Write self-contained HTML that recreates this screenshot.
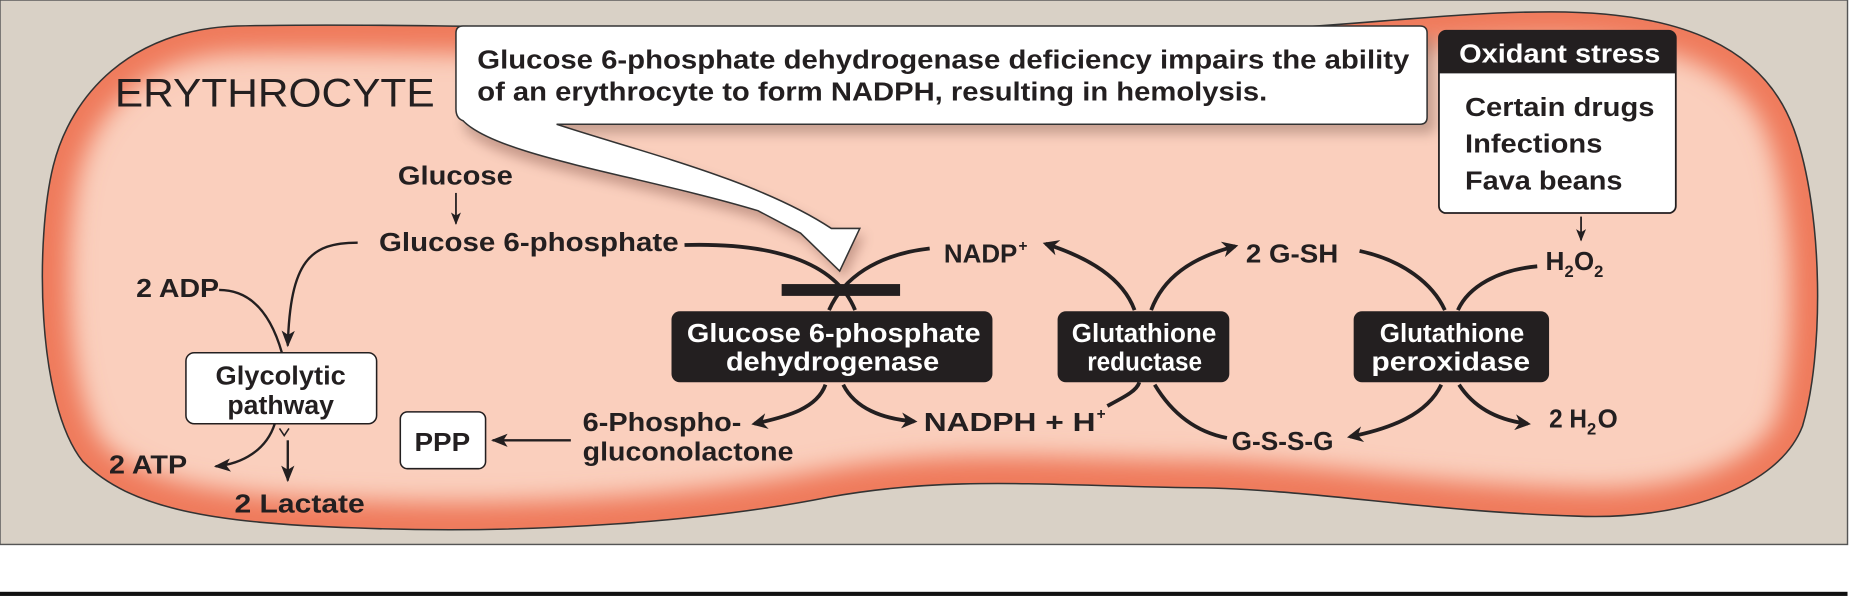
<!DOCTYPE html>
<html><head><meta charset="utf-8"><style>
html,body{margin:0;padding:0;background:#fff;}
svg{display:block;}
text{font-family:"Liberation Sans",Arial,sans-serif;font-weight:bold;fill:#231f20;}
</style></head><body>
<svg width="1857" height="606" viewBox="0 0 1568 512" preserveAspectRatio="none" xmlns="http://www.w3.org/2000/svg">
<defs>
<marker id="ah" viewBox="0 0 10 10" refX="8" refY="5" markerWidth="4.2" markerHeight="4.2" orient="auto" markerUnits="strokeWidth">
<path d="M0,0 L10,5 L0,10 L3,5 Z" fill="#231f20"/></marker>
<marker id="as" viewBox="0 0 10 10" refX="9" refY="5" markerWidth="7" markerHeight="7" orient="auto" markerUnits="strokeWidth">
<path d="M0,1 L10,5 L0,9 L2.5,5 Z" fill="#231f20"/></marker>
<clipPath id="cp"><path d="M200,22 C350,18 700,30 900,30 C1100,30 1200,10 1310,10 C1420,10 1490,40 1515,110 C1540,180 1540,300 1522,360 C1502,412 1420,440 1330,436 C1200,432 1100,412 1000,412 C880,410 800,402 700,420 C600,440 450,452 300,446 C180,442 110,430 70,390 C30,340 30,200 45,140 C60,80 110,25 200,22 Z"/></clipPath>
<filter id="bl" x="-10%" y="-10%" width="120%" height="120%"><feGaussianBlur stdDeviation="10"/></filter>
<filter id="sh" x="-10%" y="-10%" width="130%" height="140%"><feGaussianBlur stdDeviation="5"/></filter>
</defs>
<rect x="0" y="0" width="1560" height="460" fill="#d9d1c6" stroke="#555" stroke-width="1.2"/>
<rect x="0" y="500" width="1560" height="3.5" fill="#111"/>
<g clip-path="url(#cp)">
<rect x="0" y="0" width="1568" height="512" fill="#facfbd"/>
<path d="M200,22 C350,18 700,30 900,30 C1100,30 1200,10 1310,10 C1420,10 1490,40 1515,110 C1540,180 1540,300 1522,360 C1502,412 1420,440 1330,436 C1200,432 1100,412 1000,412 C880,410 800,402 700,420 C600,440 450,452 300,446 C180,442 110,430 70,390 C30,340 30,200 45,140 C60,80 110,25 200,22 Z" fill="none" stroke="#ef7a5b" stroke-width="46" filter="url(#bl)"/>
</g>
<path d="M200,22 C350,18 700,30 900,30 C1100,30 1200,10 1310,10 C1420,10 1490,40 1515,110 C1540,180 1540,300 1522,360 C1502,412 1420,440 1330,436 C1200,432 1100,412 1000,412 C880,410 800,402 700,420 C600,440 450,452 300,446 C180,442 110,430 70,390 C30,340 30,200 45,140 C60,80 110,25 200,22 Z" fill="none" stroke="#333" stroke-width="1.3"/>

<text x="97" y="90" style="font-weight:normal" font-size="34" textLength="270" lengthAdjust="spacingAndGlyphs">ERYTHROCYTE</text>

<!-- callout -->
<path d="M392,106 C420,135 540,150 640,180 L676,197 L709,229 L726,193 L702,193 C640,152 540,130 470,108 Z" fill="#8a5a50" opacity="0.45" filter="url(#sh)" transform="translate(4,6)"/>
<rect x="389" y="26" width="820" height="82" rx="6" fill="#7a5a50" opacity="0.4" filter="url(#sh)" transform="translate(3,5)"/>
<path d="M391,22 L1199,22 Q1205,22 1205,28 L1205,99 Q1205,105 1199,105 L470,105 C540,128 640,152 702,193 L726,193 L709,229 L676,197 L640,178 C540,148 420,132 391,102 Q385,100 385,92 L385,28 Q385,22 391,22 Z" fill="#fff" stroke="#333" stroke-width="1.3"/>
<text x="403" y="58" font-size="22" textLength="787" lengthAdjust="spacingAndGlyphs">Glucose 6-phosphate dehydrogenase deficiency impairs the ability</text>
<text x="403" y="85" font-size="22" textLength="667" lengthAdjust="spacingAndGlyphs">of an erythrocyte to form NADPH, resulting in hemolysis.</text>

<!-- oxidant stress -->
<rect x="1215" y="26" width="200" height="154" rx="6" fill="#fff" stroke="#231f20" stroke-width="1.5"/>
<path d="M1221,26 L1409,26 Q1415,26 1415,32 L1415,62 L1215,62 L1215,32 Q1215,26 1221,26 Z" fill="#231f20"/>
<text x="1232" y="53" font-size="22" style="fill:#fff" textLength="170" lengthAdjust="spacingAndGlyphs">Oxidant stress</text>
<text x="1237" y="98" font-size="22" textLength="160" lengthAdjust="spacingAndGlyphs">Certain drugs</text>
<text x="1237" y="129" font-size="22" textLength="116" lengthAdjust="spacingAndGlyphs">Infections</text>
<text x="1237" y="160" font-size="22" textLength="133" lengthAdjust="spacingAndGlyphs">Fava beans</text>
<line x1="1335" y1="183" x2="1335" y2="203" stroke="#231f20" stroke-width="1.5" marker-end="url(#as)"/>

<!-- labels -->
<text x="336" y="156" font-size="22" textLength="97" lengthAdjust="spacingAndGlyphs">Glucose</text>
<line x1="385" y1="163" x2="385" y2="189" stroke="#231f20" stroke-width="1.5" marker-end="url(#as)"/>
<text x="320" y="212" font-size="22" textLength="253" lengthAdjust="spacingAndGlyphs">Glucose 6-phosphate</text>
<text x="797" y="222" font-size="22" textLength="62" lengthAdjust="spacingAndGlyphs">NADP</text><text x="860" y="212" font-size="13">+</text>
<text x="1052" y="222" font-size="22" textLength="78" lengthAdjust="spacingAndGlyphs">2 G-SH</text>
<text x="1305" y="228" font-size="22" textLength="16" lengthAdjust="spacingAndGlyphs">H</text><text x="1321" y="234" font-size="14">2</text><text x="1329" y="228" font-size="22" textLength="17" lengthAdjust="spacingAndGlyphs">O</text><text x="1346" y="234" font-size="14">2</text>
<text x="115" y="251" font-size="22" textLength="70" lengthAdjust="spacingAndGlyphs">2 ADP</text>
<text x="492" y="364" font-size="22" textLength="134" lengthAdjust="spacingAndGlyphs">6-Phospho-</text>
<text x="492" y="389" font-size="22" textLength="178" lengthAdjust="spacingAndGlyphs">gluconolactone</text>
<text x="780" y="364" font-size="22" textLength="145" lengthAdjust="spacingAndGlyphs">NADPH + H</text><text x="926" y="354" font-size="13">+</text>
<text x="1040" y="380" font-size="22" textLength="86" lengthAdjust="spacingAndGlyphs">G-S-S-G</text>
<text x="1308" y="361" font-size="22" textLength="32" lengthAdjust="spacingAndGlyphs">2 H</text><text x="1340" y="367" font-size="14">2</text><text x="1349" y="361" font-size="22" textLength="17" lengthAdjust="spacingAndGlyphs">O</text>
<text x="92" y="400" font-size="22" textLength="66" lengthAdjust="spacingAndGlyphs">2 ATP</text>
<text x="198" y="433" font-size="22" textLength="110" lengthAdjust="spacingAndGlyphs">2 Lactate</text>

<!-- curves -->
<g fill="none" stroke="#231f20" stroke-width="3.2">
<path d="M578,207 C650,205 705,220 722,262"/>
<path d="M785,210 C740,215 712,235 700,262"/>
<path d="M697,325 C690,345 665,352 637,358" marker-end="url(#ah)"/>
<path d="M712,325 C722,345 745,354 772,356" marker-end="url(#ah)"/>
<path d="M958,262 C948,235 920,218 883,206" marker-end="url(#ah)"/>
<path d="M972,262 C982,235 1005,218 1043,208" marker-end="url(#ah)"/>
<path d="M935,343 C950,335 960,330 962,323"/>
<path d="M975,325 C990,350 1010,365 1036,370"/>
<path d="M1148,212 C1185,220 1210,240 1220,262"/>
<path d="M1298,225 C1265,228 1240,242 1231,262"/>
<path d="M1217,325 C1205,350 1175,362 1140,369" marker-end="url(#ah)"/>
<path d="M1232,325 C1245,345 1265,355 1290,358" marker-end="url(#ah)"/>
</g>
<g fill="none" stroke="#231f20" stroke-width="2">
<path d="M302,205 C262,205 245,220 243,292" marker-end="url(#as)"/>
<path d="M185,245 C215,245 230,270 238,298"/>
<path d="M232,358 C225,380 205,392 182,394" marker-end="url(#as)"/>
<path d="M236,362 L240,368 L244,362" stroke-width="1.3"/>
<line x1="243" y1="372" x2="243" y2="406" marker-end="url(#as)"/>
<line x1="482" y1="372" x2="416" y2="372" marker-end="url(#as)"/>
</g>
<rect x="660" y="240" width="100" height="10" fill="#231f20"/>

<!-- enzyme boxes -->
<rect x="567" y="263" width="271" height="60" rx="7" fill="#231f20"/>
<text x="580" y="289" font-size="22" style="fill:#fff" textLength="248" lengthAdjust="spacingAndGlyphs">Glucose 6-phosphate</text>
<text x="613" y="313" font-size="22" style="fill:#fff" textLength="180" lengthAdjust="spacingAndGlyphs">dehydrogenase</text>
<rect x="893" y="263" width="145" height="60" rx="7" fill="#231f20"/>
<text x="905" y="289" font-size="22" style="fill:#fff" textLength="122" lengthAdjust="spacingAndGlyphs">Glutathione</text>
<text x="918" y="313" font-size="22" style="fill:#fff" textLength="97" lengthAdjust="spacingAndGlyphs">reductase</text>
<rect x="1143" y="263" width="165" height="60" rx="7" fill="#231f20"/>
<text x="1165" y="289" font-size="22" style="fill:#fff" textLength="122" lengthAdjust="spacingAndGlyphs">Glutathione</text>
<text x="1158" y="313" font-size="22" style="fill:#fff" textLength="134" lengthAdjust="spacingAndGlyphs">peroxidase</text>

<rect x="157" y="298" width="161" height="60" rx="7" fill="#fff" stroke="#231f20" stroke-width="1.3"/>
<text x="182" y="325" font-size="22" textLength="110" lengthAdjust="spacingAndGlyphs">Glycolytic</text>
<text x="192" y="350" font-size="22" textLength="90" lengthAdjust="spacingAndGlyphs">pathway</text>
<rect x="338" y="348" width="72" height="48" rx="6" fill="#fff" stroke="#231f20" stroke-width="1.3"/>
<text x="350" y="381" font-size="22" textLength="47" lengthAdjust="spacingAndGlyphs">PPP</text>
</svg>
</body></html>
